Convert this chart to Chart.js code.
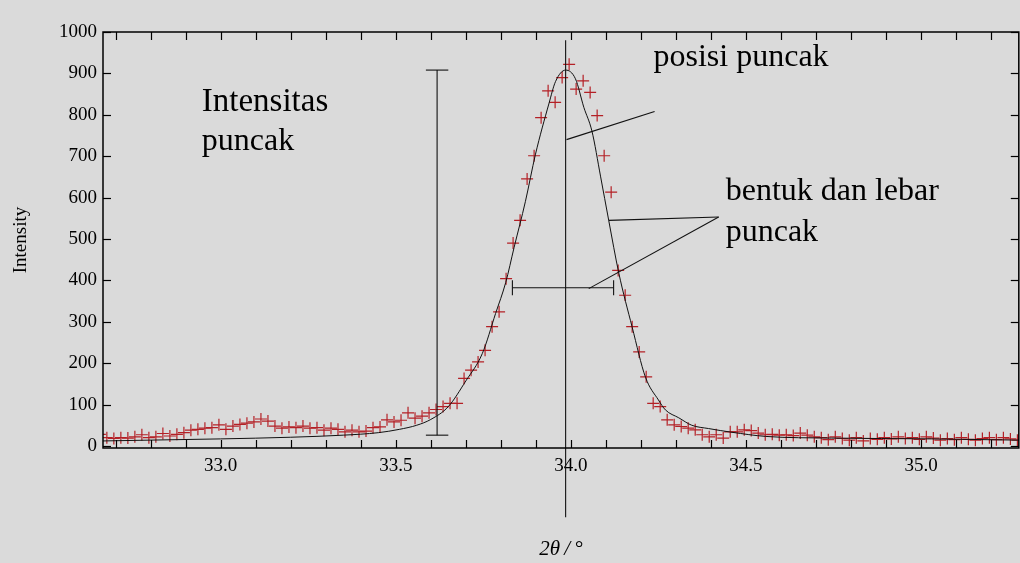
<!DOCTYPE html>
<html>
<head>
<meta charset="utf-8">
<script src="https://cdn.jsdelivr.net/npm/chart.js@4/dist/chart.umd.min.js"></script>
<style>
html,body{margin:0;padding:0;width:1020px;height:563px;overflow:hidden;background:#dadada}
#wrap{position:relative;width:1026px;height:563px}
canvas{display:block}
</style>
</head>
<body>
<div id="wrap"><canvas id="c" width="1026" height="563" style="width:1026px;height:563px"></canvas></div>
<script>
// ---- measured data (2θ in degrees, intensity in counts) ----
const twoTheta = [
32.655,32.675,32.695,32.715,32.735,32.755,32.775,32.795,32.815,32.835,
32.855,32.875,32.895,32.915,32.935,32.955,32.975,32.995,33.015,33.035,
33.055,33.075,33.095,33.115,33.135,33.155,33.175,33.195,33.215,33.235,
33.255,33.275,33.295,33.315,33.335,33.355,33.375,33.395,33.415,33.435,
33.455,33.475,33.495,33.515,33.535,33.555,33.575,33.595,33.615,33.635,
33.655,33.675,33.695,33.715,33.735,33.755,33.775,33.795,33.815,33.835,
33.855,33.875,33.895,33.915,33.935,33.955,33.975,33.995,34.015,34.035,
34.055,34.075,34.095,34.115,34.135,34.155,34.175,34.195,34.215,34.235,
34.255,34.275,34.295,34.315,34.335,34.355,34.375,34.395,34.415,34.435,
34.455,34.475,34.495,34.515,34.535,34.555,34.575,34.595,34.615,34.635,
34.655,34.675,34.695,34.715,34.735,34.755,34.775,34.795,34.815,34.835,
34.855,34.875,34.895,34.915,34.935,34.955,34.975,34.995,35.015,35.035,
35.055,35.075,35.095,35.115,35.135,35.155,35.175,35.195,35.215,35.235,
35.255,35.275];
const intensity = [
28,20,18,20,19,22,27,20,22,30,
24,28,32,38,40,43,44,51,40,48,
52,55,58,65,60,48,43,46,44,48,
43,44,38,43,40,34,38,34,36,44,
46,63,58,62,80,67,72,80,88,95,
103,103,163,183,203,231,288,324,404,490,
545,645,701,793,858,830,890,922,862,882,
854,798,701,613,424,364,288,227,167,103,
95,63,51,47,43,39,27,22,27,19,
34,34,39,37,31,27,28,26,27,25,
31,26,22,20,15,22,18,14,20,12,
18,16,20,17,22,18,20,16,22,19,
14,18,15,20,16,14,18,20,15,20,
17,14];

// ---- fitted profile ----
const fitTwoTheta = [32.66,33.0,33.2,33.35,33.45,33.51,33.56,33.6,33.65,33.7,33.747,33.785,33.814,33.838,33.87,33.899,33.937,33.956,33.985,34.013,34.037,34.06,34.085,34.108,34.137,34.175,34.213,34.25,34.27,34.308,34.345,34.393,34.46,34.556,34.744,35.03,35.28];
const fitIntensity = [12,17,21,26,32,40,50,64,95,157,223,320,395,480,590,705,826,880,908,887,818,761,650,545,417,287,166,111,87,68,50,42,33,23,19,17,14];

// ---- axis settings / tick labels ----
const xRange = [32.664, 35.279];
const yRange = [-5, 1000];
const xTickValues = [32.7,32.8,32.9,33.0,33.1,33.2,33.3,33.4,33.5,33.6,33.7,33.8,33.9,34.0,34.1,34.2,34.3,34.4,34.5,34.6,34.7,34.8,34.9,35.0,35.1,35.2];
const xTickLabels = ['','','','33.0','','','','','33.5','','','','','34.0','','','','','34.5','','','','','35.0','',''];
const yTickValues = [0,100,200,300,400,500,600,700,800,900,1000];
const yTickLabels = ['0','100','200','300','400','500','600','700','800','900','1000'];

// ---- annotations (data coordinates) ----
const peakPositionLine = [[33.985, -172], [33.985, 980]];
const peakIntensityBar = {x: 33.618, y0: 26, y1: 908, capHalf: 0.032};
const widthBar = {y: 382, x0: 33.833, x1: 34.122, capHalf: 18};
const pointerLines = [
  [[33.9875, 740], [34.239, 808]],
  [[34.108, 545], [34.422, 553]],
  [[34.422, 553], [34.051, 380]]
];
const labels = [
  {text: 'posisi puncak', x: 34.236, y: 918, size: 32},
  {text: 'Intensitas', x: 32.946, y: 809, size: 33},
  {text: 'puncak', x: 32.946, y: 715, size: 32},
  {text: 'bentuk dan lebar', x: 34.442, y: 593, size: 32},
  {text: 'puncak', x: 34.442, y: 496, size: 32}
];

const SERIF = '"Liberation Serif", "Times New Roman", serif';

const annotate = {
  id: 'annotate',
  afterDatasetsDraw(chart) {
    const {ctx, scales: {x, y}} = chart;
    const X = v => x.getPixelForValue(v), Y = v => y.getPixelForValue(v);
    ctx.save();
    ctx.strokeStyle = '#111';
    ctx.lineWidth = 1.1;
    const seg = (a, b, c, d) => { ctx.beginPath(); ctx.moveTo(a, b); ctx.lineTo(c, d); ctx.stroke(); };
    seg(X(peakPositionLine[0][0]), Y(peakPositionLine[0][1]), X(peakPositionLine[1][0]), Y(peakPositionLine[1][1]));
    const b = peakIntensityBar;
    seg(X(b.x), Y(b.y0), X(b.x), Y(b.y1));
    seg(X(b.x - b.capHalf), Y(b.y0), X(b.x + b.capHalf), Y(b.y0));
    seg(X(b.x - b.capHalf), Y(b.y1), X(b.x + b.capHalf), Y(b.y1));
    const w = widthBar;
    seg(X(w.x0), Y(w.y), X(w.x1), Y(w.y));
    seg(X(w.x0), Y(w.y - w.capHalf), X(w.x0), Y(w.y + w.capHalf));
    seg(X(w.x1), Y(w.y - w.capHalf), X(w.x1), Y(w.y + w.capHalf));
    pointerLines.forEach(p => seg(X(p[0][0]), Y(p[0][1]), X(p[1][0]), Y(p[1][1])));
    ctx.fillStyle = '#000';
    ctx.textAlign = 'left';
    ctx.textBaseline = 'alphabetic';
    labels.forEach(l => { ctx.font = l.size + 'px ' + SERIF; ctx.fillText(l.text, X(l.x), Y(l.y)); });
    ctx.restore();
  }
};

const frame = {
  id: 'frame',
  afterDraw(chart) {
    const {ctx, chartArea: a, scales: {x, y}} = chart;
    ctx.save();
    ctx.strokeStyle = '#000';
    ctx.lineWidth = 1.5;
    ctx.strokeRect(a.left, a.top, a.right - a.left, a.bottom - a.top);
    ctx.lineWidth = 1.2;
    const seg = (p, q, r, s) => { ctx.beginPath(); ctx.moveTo(p, q); ctx.lineTo(r, s); ctx.stroke(); };
    x.ticks.forEach(t => {
      const px = Math.round(x.getPixelForValue(t.value)) + 0.5;
      seg(px, a.bottom, px, a.bottom - 8);
      seg(px, a.top, px, a.top + 8);
    });
    y.ticks.forEach(t => {
      const py = Math.round(y.getPixelForValue(t.value)) + 0.5;
      seg(a.left, py, a.left + 8, py);
      seg(a.right, py, a.right - 8, py);
    });
    ctx.restore();
  }
};

new Chart(document.getElementById('c'), {
  data: {
    datasets: [
      {
        type: 'line',
        label: 'fit',
        data: fitTwoTheta.map((v, i) => ({x: v, y: fitIntensity[i]})),
        borderColor: '#111',
        borderWidth: 1,
        pointRadius: 0,
        fill: false,
        cubicInterpolationMode: 'monotone'
      },
      {
        type: 'scatter',
        label: 'observed',
        data: twoTheta.map((v, i) => ({x: v, y: intensity[i]})),
        pointStyle: 'cross',
        pointRadius: 6,
        borderColor: 'rgb(180,32,38)',
        borderWidth: 1.2,
        backgroundColor: 'rgb(180,32,38)'
      }
    ]
  },
  options: {
    responsive: false,
    animation: false,
    devicePixelRatio: 1,
    layout: {padding: {top: 32, right: 5, bottom: 0, left: 0}},
    plugins: {legend: {display: false}, tooltip: {enabled: false}},
    scales: {
      x: {
        type: 'linear',
        position: 'bottom',
        min: xRange[0],
        max: xRange[1],
        grid: {display: false, drawTicks: false},
        border: {display: false},
        afterBuildTicks: s => { s.ticks = xTickValues.map(v => ({value: v})); },
        ticks: {
          autoSkip: false,
          maxRotation: 0,
          padding: 7,
          color: '#000',
          font: {family: SERIF, size: 19},
          callback: (v, i) => xTickLabels[i]
        },
        title: {
          display: true,
          text: '2θ\u2009/\u2009°',
          color: '#000',
          font: {family: SERIF, size: 21, style: 'italic'},
          padding: {top: 0, bottom: 1}
        },
        afterFit: s => { s.height = 115; }
      },
      y: {
        type: 'linear',
        position: 'left',
        min: yRange[0],
        max: yRange[1],
        grid: {display: false, drawTicks: false},
        border: {display: false},
        afterBuildTicks: s => { s.ticks = yTickValues.map(v => ({value: v})); },
        ticks: {
          autoSkip: false,
          padding: 6,
          color: '#000',
          font: {family: SERIF, size: 19},
          callback: (v, i) => yTickLabels[i]
        },
        title: {
          display: true,
          text: 'Intensity',
          color: '#000',
          font: {family: SERIF, size: 19},
          padding: {top: 10, bottom: 0}
        },
        afterFit: s => { s.width = 103; }
      }
    }
  },
  plugins: [annotate, frame]
});
</script>
</body>
</html>
